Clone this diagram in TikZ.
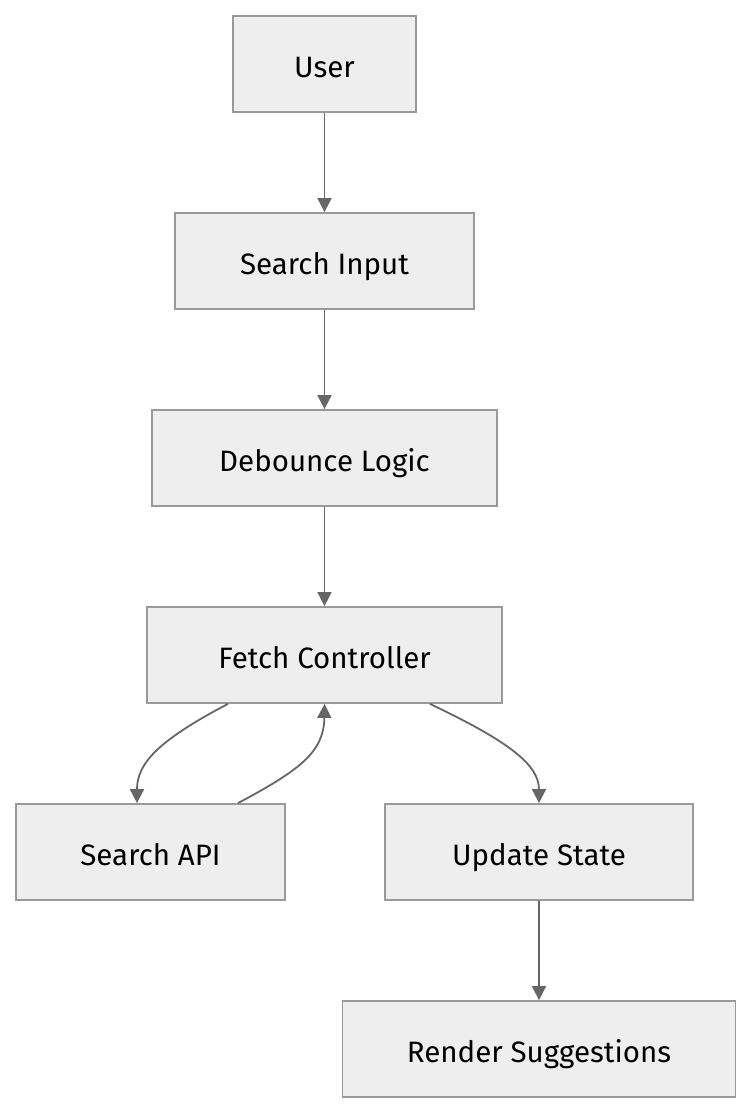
\documentclass[tikz,border=0pt]{standalone}
\usepackage{fontspec}
\setmainfont{Fira Sans}
\usetikzlibrary{arrows.meta}
\definecolor{boxfill}{HTML}{EEEEEE}
\definecolor{boxline}{HTML}{999999}
\definecolor{edgecol}{HTML}{666666}

\begin{document}
\begin{tikzpicture}[x=1pt,y=-1pt,font=\fontsize{29.5}{34}\selectfont,
  box/.style={draw=boxline,fill=boxfill,line width=1.8pt,minimum height=96pt,inner sep=0pt,
    text height=26pt,text depth=0pt},
  edge/.style={draw=edgecol,line width=1.8pt,-{Triangle[length=14pt,width=14pt]}}]
  \useasboundingbox (0,0) rectangle (753,1114);
  \node[box,minimum width=183pt] (user) at (324.5,64) {User};
  \node[box,minimum width=299pt] (input) at (324.5,261) {Search Input};
  \node[box,minimum width=345pt] (debounce) at (324.5,458) {Debounce Logic};
  \node[box,minimum width=355pt] (fetch) at (324.5,655) {Fetch Controller};
  \node[box,minimum width=269pt] (api) at (150.5,852) {Search API};
  \node[box,minimum width=308pt] (update) at (539,852) {Update State};
  \node[box,minimum width=393pt] (render) at (539,1049) {Render Suggestions};
  \draw[edge] (user) -- (input);
  \draw[edge] (input) -- (debounce);
  \draw[edge] (debounce) -- (fetch);
  \draw[edge] ([xshift=-96.5pt]fetch.south) .. controls (155,742) and (137,765) .. ([xshift=-13.5pt]api.north);
  \draw[edge] ([xshift=87.5pt]api.north) .. controls (300,770) and (324,752) .. (fetch.south);
  \draw[edge] ([xshift=105.5pt]fetch.south) .. controls (510,742) and (539,765) .. (update.north);
  \draw[edge] (update) -- (render);
\end{tikzpicture}
\end{document}
